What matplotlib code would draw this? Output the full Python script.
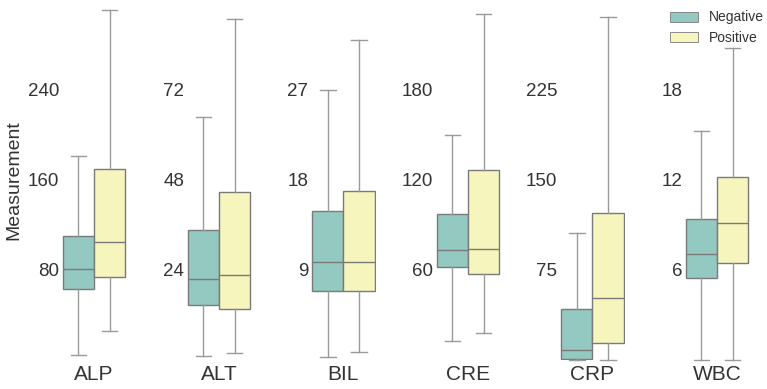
import matplotlib
matplotlib.use("Agg")
import matplotlib.pyplot as plt
import matplotlib.transforms as mtransforms
from matplotlib.patches import Patch

plt.rcParams["font.family"] = ["Liberation Sans", "DejaVu Sans"]

# Lab measures and the upper limit of each panel's y range
measures = ["ALP", "ALT", "BIL", "CRE", "CRP", "WBC"]
y_max = [320, 96, 36, 240, 300, 24]
groups = ["Negative", "Positive"]

# Five-number summaries: lower whisker, Q1, median, Q3, upper whisker
negative_stats = [
    [4.4, 62.8, 80.6, 110.0, 181.0],
    [1.1, 14.7, 21.7, 34.7, 64.9],
    [0.3, 6.9, 9.8, 14.9, 27.0],
    [12.9, 62.2, 73.3, 97.1, 150.0],
    [0.0, 0.8, 8.3, 42.5, 106.0],
    [0.0, 5.45, 7.1, 9.38, 15.3],
]
positive_stats = [
    [26.0, 74.0, 105.2, 169.5, 311.0],
    [2.0, 13.6, 22.6, 44.7, 90.9],
    [0.8, 6.9, 9.8, 16.9, 32.0],
    [18.2, 57.3, 74.2, 126.9, 231.0],
    [0.0, 13.9, 51.9, 122.8, 285.6],
    [0.0, 6.5, 9.15, 12.2, 20.8],
]

colors = ["#93c9c0", "#f5f5bd"]
box_edge = "#7a7a7a"
line_color = "#9a9a9a"
text_color = "#333333"

W, H = 767, 389
fig = plt.figure(figsize=(W / 100, H / 100), dpi=100)

centers_px = [94, 219, 343.3, 468, 592.3, 717]
px_per_unit = 78.0
half = 0.42
ax_w = 2 * half * px_per_unit
bottom_px = 29
ax_h = 360


def summary(s, label):
    lo, q1, med, q3, hi = s
    return dict(label=label, whislo=lo, q1=q1, med=med, q3=q3, whishi=hi, fliers=[])


for i, name in enumerate(measures):
    left = (centers_px[i] - ax_w / 2) / W
    ax = fig.add_axes([left, bottom_px / H, ax_w / W, ax_h / H])
    stats = [summary(negative_stats[i], groups[0]), summary(positive_stats[i], groups[1])]
    bp = ax.bxp(
        stats,
        positions=[-0.2, 0.2],
        widths=0.4,
        patch_artist=True,
        showfliers=False,
        boxprops=dict(edgecolor=box_edge, linewidth=1.0),
        whiskerprops=dict(color=line_color, linewidth=1.0),
        capprops=dict(color=line_color, linewidth=1.0),
        medianprops=dict(color=box_edge, linewidth=1.0),
        capwidths=0.2,
    )
    for patch, c in zip(bp["boxes"], colors):
        patch.set_facecolor(c)
    for artist in bp["caps"] + bp["whiskers"]:
        artist.set_clip_on(False)

    ax.set_xlim(-half, half)
    ax.set_ylim(0, y_max[i])
    ticks = [y_max[i] / 4 * k for k in (1, 2, 3)]
    ax.set_yticks(ticks)
    ax.set_yticklabels([f"{t:g}" for t in ticks])
    ax.tick_params(axis="y", length=0, pad=1.5, labelsize=13.5, labelcolor=text_color)
    ax.set_xticks([])
    for sp in ax.spines.values():
        sp.set_visible(False)
    ax.patch.set_alpha(0)

    trans = mtransforms.blended_transform_factory(ax.transData, fig.transFigure)
    ax.text(0, 1 - 375 / H, name, transform=trans, ha="center", va="center",
            fontsize=15, color=text_color)

fig.text(14 / W, 1 - 180.5 / H, "Measurement", rotation=90, ha="center",
         va="center", fontsize=14, color=text_color)

handles = [Patch(facecolor=c, edgecolor=box_edge, linewidth=0.6, label=g)
           for c, g in zip(colors, groups)]
fig.legend(handles=handles, loc="upper left", bbox_to_anchor=(670 / W, 1 - 10.5 / H),
           frameon=False, fontsize=10, handlelength=2.0, handleheight=0.72,
           handletextpad=0.8, labelspacing=0.44, borderpad=0, borderaxespad=0,
           labelcolor=text_color)

fig.savefig("out.png", dpi=100)
